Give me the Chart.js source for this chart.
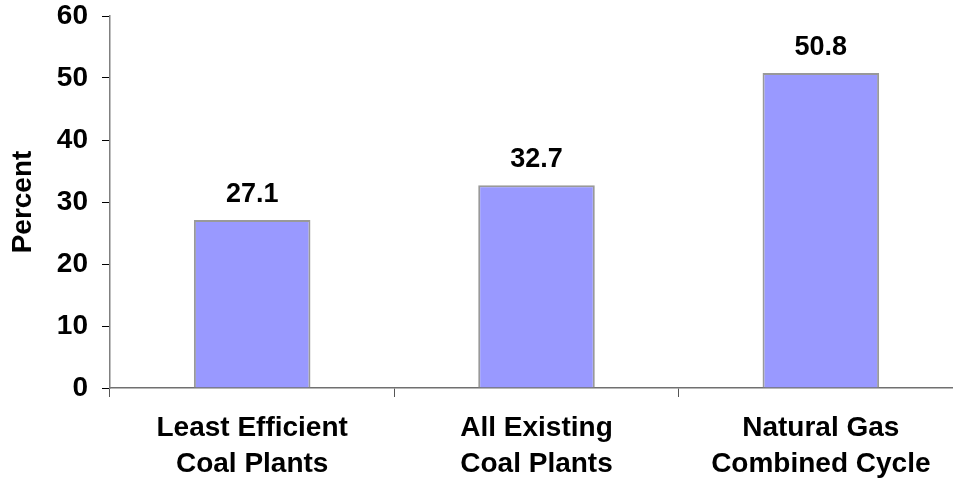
<!DOCTYPE html>
<html lang="en">
<head>
  <meta charset="UTF-8">
  <title>Generating Efficiency</title>
  <script src="https://cdn.jsdelivr.net/npm/chart.js"></script>
  <style>
    html, body { margin: 0; padding: 0; background: #fff; overflow: hidden; }
    .wrap { position: relative; width: 963px; height: 478px; }
  </style>
</head>
<body>
  <div class="wrap"><canvas id="chart"></canvas></div>

  <script>
    // plant types and efficiency (percent)
    const categories = [
      ['Least Efficient', 'Coal Plants'],
      ['All Existing', 'Coal Plants'],
      ['Natural Gas', 'Combined Cycle']
    ];
    const efficiency = [27.1, 32.7, 50.8];
    const yTicks = [0, 10, 20, 30, 40, 50, 60];

    const font = 'Liberation Sans, Arial, sans-serif';

    // writes the value above each bar
    const valueLabels = {
      id: 'valueLabels',
      afterDatasetsDraw(chart) {
        const ctx = chart.ctx;
        const meta = chart.getDatasetMeta(0);
        ctx.save();
        ctx.font = 'bold 27px ' + font;
        ctx.fillStyle = '#000';
        ctx.textAlign = 'center';
        ctx.textBaseline = 'alphabetic';
        meta.data.forEach((bar, i) => {
          ctx.fillText(efficiency[i].toFixed(1), bar.x, bar.y - 18);
        });
        ctx.restore();
      }
    };

    new Chart(document.getElementById('chart'), {
      type: 'bar',
      data: {
        labels: categories,
        datasets: [{
          data: efficiency,
          backgroundColor: '#9999ff',
          borderColor: '#999999',
          borderWidth: 2,
          categoryPercentage: 1,
          barPercentage: 0.41
        }]
      },
      options: {
        responsive: true,
        maintainAspectRatio: false,
        animation: false,
        layout: { padding: 0 },
        plugins: {
          legend: { display: false },
          tooltip: { enabled: false }
        },
        scales: {
          x: {
            offset: true,
            grid: { offset: true, drawOnChartArea: false, drawTicks: true, tickLength: 9, color: '#555' },
            border: { color: '#707070', width: 1.5 },
            ticks: {
              color: '#000',
              padding: 13,
              maxRotation: 0,
              font: { family: font, size: 28, weight: 'bold', lineHeight: 1.3 }
            },
            afterFit: s => { s.height = 90; }
          },
          y: {
            min: 0,
            max: 60,
            afterBuildTicks: s => { s.ticks = yTicks.map(v => ({ value: v })); },
            grid: { drawOnChartArea: false, drawTicks: true, tickLength: 8, color: '#000' },
            border: { color: '#808080', width: 1.5 },
            ticks: {
              color: '#000',
              padding: 14,
              font: { family: font, size: 28, weight: 'bold' }
            },
            title: {
              display: true,
              text: 'Percent',
              color: '#000',
              padding: { top: 6, bottom: 0 },
              font: { family: font, size: 28, weight: 'bold' }
            },
            afterFit: s => {
              s.width = 110;
              s.paddingTop = 16;
              s.paddingBottom = 0;
            }
          }
        }
      },
      plugins: [valueLabels]
    });
  </script>
</body>
</html>
